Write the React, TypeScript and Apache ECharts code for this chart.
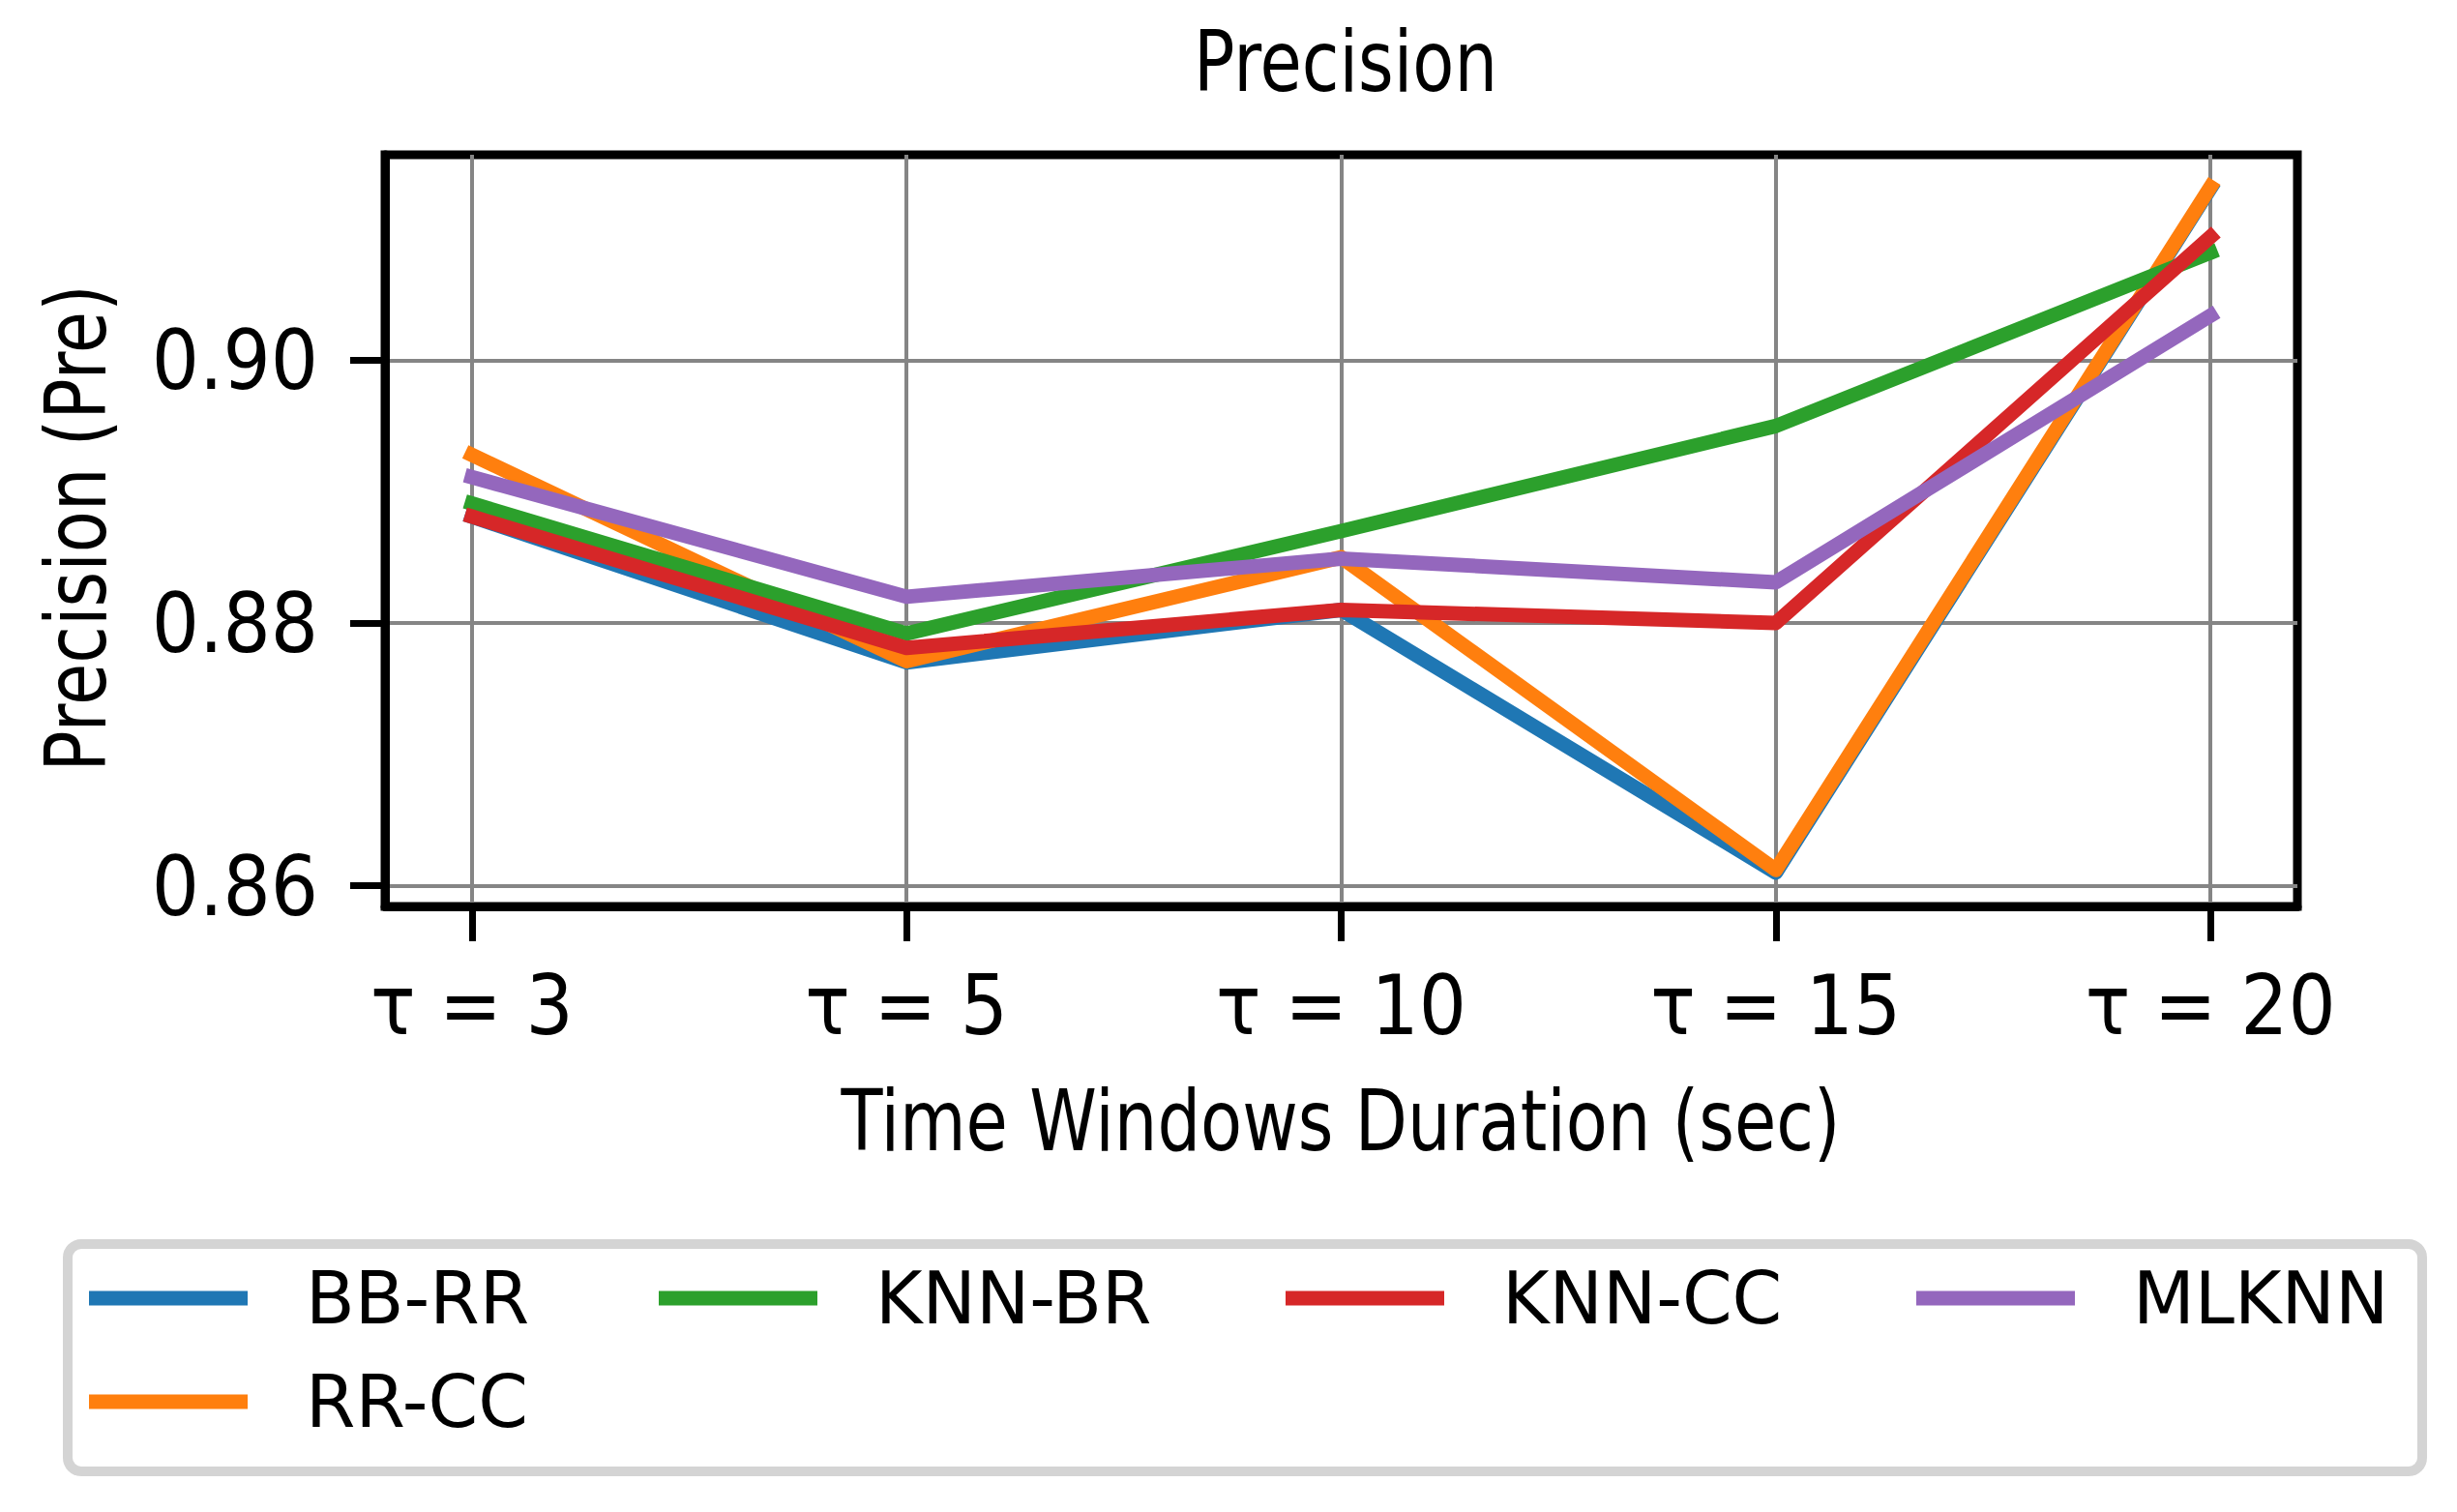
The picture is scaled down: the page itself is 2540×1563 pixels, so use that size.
import React, { useEffect, useRef } from "react";
import * as echarts from "echarts";

const categories = ["τ = 3", "τ = 5", "τ = 10", "τ = 15", "τ = 20"];
const BB_RR = [0.8881, 0.877, 0.881, 0.861, 0.9131];
const RR_CC = [0.8928, 0.8771, 0.885, 0.8612, 0.9132];
const KNN_BR = [0.8891, 0.8792, 0.887, 0.895, 0.9082];
const KNN_CC = [0.8881, 0.8781, 0.881, 0.88, 0.9094];
const MLKNN = [0.8911, 0.882, 0.8849, 0.8831, 0.9034];
const yTicks = [0.86, 0.88, 0.9];

const seriesNames = ["BB-RR", "RR-CC", "KNN-BR", "KNN-CC", "MLKNN"];
const seriesValues = [BB_RR, RR_CC, KNN_BR, KNN_CC, MLKNN];
const colors = ["#1f77b4", "#ff7f0e", "#2ca02c", "#d62728", "#9467bd"];

const FONT = "'DejaVu Sans'";
const TICK_FONT = "'DejaVu Sans Condensed', 'DejaVu Sans'";

export default function App() {
  const ref = useRef<HTMLDivElement>(null);
  useEffect(() => {
    if (!ref.current) return;
    const chart = echarts.init(ref.current, null, { renderer: "svg" });
    const xIdx = categories.map((_, i) => i);
    const legendPos = [
      { name: "BB-RR", left: 92, top: 1302 },
      { name: "RR-CC", left: 92, top: 1409 },
      { name: "KNN-BR", left: 681, top: 1302 },
      { name: "KNN-CC", left: 1329, top: 1302 },
      { name: "MLKNN", left: 1981, top: 1302 },
    ];
    chart.setOption({
      animation: false,
      backgroundColor: "#ffffff",
      grid: {
        left: 398,
        right: 165,
        top: 160,
        bottom: 626,
        show: true,
        borderColor: "#000",
        borderWidth: 9,
        backgroundColor: "transparent",
        containLabel: false,
        outerBoundsMode: "none",
      },
      xAxis: {
        type: "value",
        min: -0.2,
        max: 4.2,
        axisLine: { show: true, onZero: false, lineStyle: { color: "#000", width: 9 } },
        axisTick: {
          show: true,
          length: 36,
          customValues: xIdx,
          lineStyle: { color: "#000", width: 7 },
        },
        axisLabel: {
          show: true,
          customValues: xIdx,
          formatter: (v: number) => categories[Math.round(v)] ?? "",
          margin: 59,
          fontSize: 86,
          fontFamily: TICK_FONT,
          color: "#000",
        },
        splitLine: { show: true, lineStyle: { color: "#858585", width: 4 } },
      },
      yAxis: {
        type: "value",
        min: 0.85842,
        max: 0.91565,
        axisLine: { show: true, onZero: false, lineStyle: { color: "#000", width: 9 } },
        axisTick: {
          show: true,
          inside: false,
          length: 36,
          customValues: yTicks,
          lineStyle: { color: "#000", width: 7 },
        },
        axisLabel: {
          show: true,
          customValues: yTicks,
          formatter: (v: number) => v.toFixed(2),
          margin: 69,
          fontSize: 86,
          fontFamily: TICK_FONT,
          color: "#000",
        },
        splitLine: { show: true, lineStyle: { color: "#858585", width: 4 } },
      },
      legend: legendPos.map((p) => ({
        data: [p.name],
        left: p.left,
        top: p.top,
        orient: "horizontal",
        padding: 0,
        icon: "rect",
        itemWidth: 164,
        itemHeight: 15,
        selectedMode: false,
        textStyle: {
          fontSize: 74,
          fontFamily: FONT,
          color: "#000",
          lineHeight: 80,
          padding: [0, 0, 0, 55],
        },
        z: 10,
      })),
      graphic: [
        {
          type: "rect",
          z: 1,
          shape: { x: 70, y: 1286, width: 2434, height: 235, r: 14 },
          style: { fill: "#ffffff", stroke: "#d4d4d4", lineWidth: 10 },
        },
        {
          type: "text",
          x: 1391,
          y: 64,
          scaleX: 0.8,
          style: {
            text: "Precision",
            fontSize: 88,
            fontFamily: FONT,
            fill: "#000",
            align: "center",
            verticalAlign: "middle",
          },
        },
        {
          type: "text",
          x: 1386,
          y: 1159,
          scaleX: 0.8,
          style: {
            text: "Time Windows Duration (sec)",
            fontSize: 88,
            fontFamily: FONT,
            fill: "#000",
            align: "center",
            verticalAlign: "middle",
          },
        },
        {
          type: "text",
          x: 79,
          y: 546,
          rotation: Math.PI / 2,
          scaleX: 0.8,
          style: {
            text: "Precision (Pre)",
            fontSize: 88,
            fontFamily: FONT,
            fill: "#000",
            align: "center",
            verticalAlign: "middle",
          },
        },
      ],
      series: seriesNames.map((name, k) => ({
        name,
        type: "line",
        data: seriesValues[k].map((v, i) => [i, v]),
        symbol: "none",
        showSymbol: false,
        color: colors[k],
        clip: true,
        lineStyle: { width: 15, color: colors[k], cap: "square", join: "round" },
        emphasis: { disabled: true },
        z: 2 + k,
      })),
    });
    return () => chart.dispose();
  }, []);
  return (
    <div
      ref={ref}
      style={{ position: "fixed", left: 0, top: 0, width: 2540, height: 1563 }}
    />
  );
}
